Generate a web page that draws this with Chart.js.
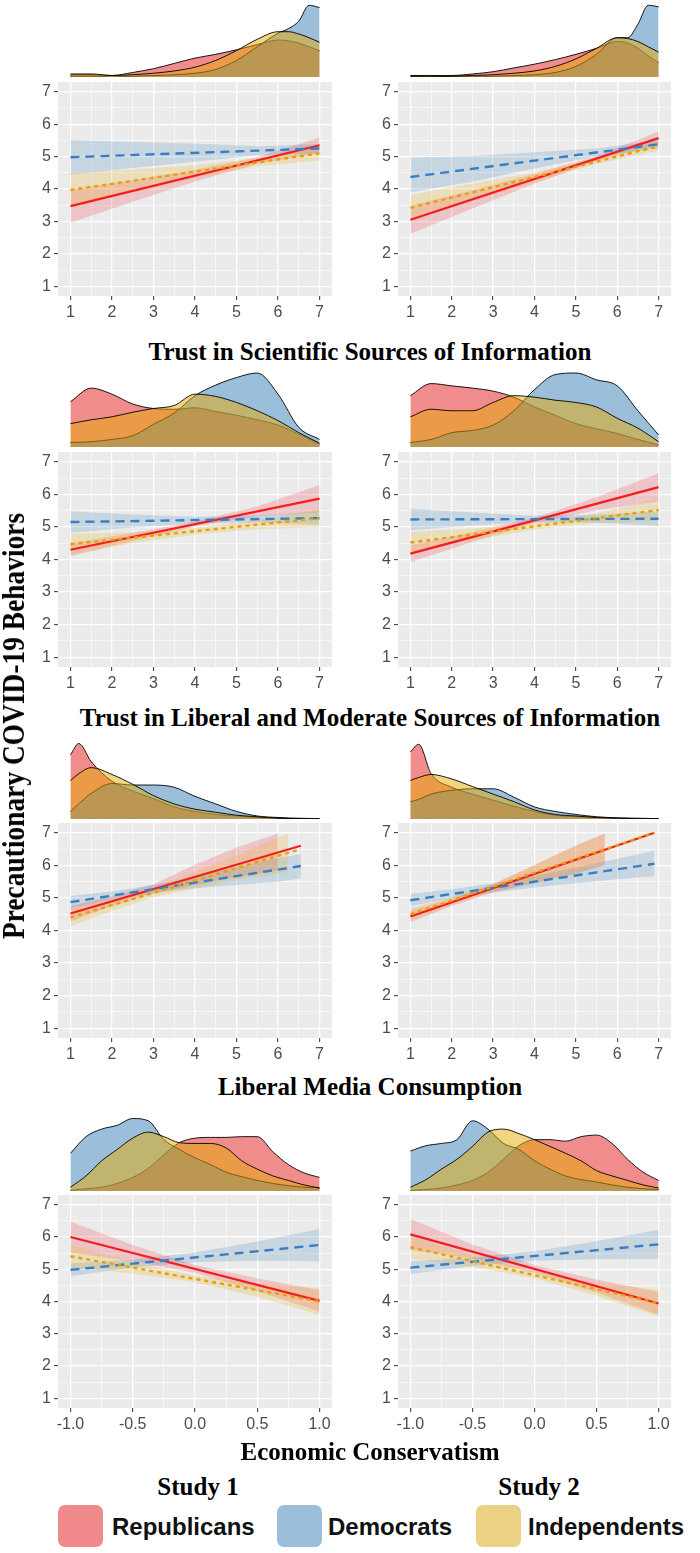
<!DOCTYPE html>
<html lang="en">
<head>
<meta charset="utf-8">
<title>Precautionary COVID-19 Behaviors</title>
<script src="https://cdn.jsdelivr.net/npm/chart.js@4.4.1/dist/chart.umd.min.js"></script>
<style>
  html, body { margin: 0; padding: 0; background: #fff; }
  body { position: relative; width: 700px; height: 1553px; overflow: hidden; }
  canvas { position: absolute; }
  .title { position: absolute; transform: translate(-50%, -50%); white-space: nowrap;
           font-family: "Liberation Serif", "Times New Roman", serif; font-weight: bold; font-size: 25px; color: #000; }
  .ytitle { position: absolute; transform: translate(-50%, -50%) rotate(-90deg) scale(0.885, 1); white-space: nowrap;
            font-family: "Liberation Serif", "Times New Roman", serif; font-weight: bold; font-size: 31px; color: #000; }
  .legend-box { position: absolute; width: 45px; height: 42px; border-radius: 7px; }
  .legend-text { position: absolute; transform: translateY(-50%); white-space: nowrap;
                 font-family: "Liberation Sans", Arial, sans-serif; font-weight: bold; font-size: 24px; color: #111; }
</style>
</head>
<body>
<script>
// ---- categorias e textos ----
const groups = ['Republicans', 'Democrats', 'Independents'];
const studies = ['Study 1', 'Study 2'];
const rowTitles = [
  'Trust in Scientific Sources of Information',
  'Trust in Liberal and Moderate Sources of Information',
  'Liberal Media Consumption',
  'Economic Conservatism'
];
const yTitle = 'Precautionary COVID-19 Behaviors';

// ---- ticks ----
const yTicks = [1, 2, 3, 4, 5, 6, 7];
const yMinor = [1.5, 2.5, 3.5, 4.5, 5.5, 6.5];
const yLabels = ['1', '2', '3', '4', '5', '6', '7'];
const xTicks17 = [1, 2, 3, 4, 5, 6, 7];
const xMinor17 = [1.5, 2.5, 3.5, 4.5, 5.5, 6.5];
const xLabels17 = ['1', '2', '3', '4', '5', '6', '7'];
const xTicksEcon = [-1, -0.5, 0, 0.5, 1];
const xMinorEcon = [-0.75, -0.25, 0.25, 0.75];
const xLabelsEcon = ['-1.0', '-0.5', '0.0', '0.5', '1.0'];

// ---- densidades (topo) : grades de x ----
const dx1 = [1, 1.5, 2, 2.5, 3, 3.5, 4, 4.5, 5, 5.5, 6, 6.25, 6.5, 6.75, 7];
const dx2 = [1, 1.5, 2, 2.5, 3, 3.5, 4, 4.5, 5, 5.5, 6, 6.5, 7];
const dx3 = [1, 1.2, 1.5, 2, 2.5, 3, 3.5, 4, 4.5, 5, 5.5, 6, 6.5, 7];
const dx4 = [-1, -0.875, -0.75, -0.625, -0.5, -0.375, -0.25, -0.125, 0, 0.125, 0.25, 0.375, 0.5, 0.625, 0.75, 0.875, 1];

// Trust in Scientific Sources
const dSci1Rep = [.03, .03, .02, .06, .11, .18, .25, .30, .36, .43, .49, .48, .45, .40, .35];
const dSci1Dem = [.01, .01, .00, .01, .02, .03, .05, .10, .22, .40, .58, .64, .74, .95, .92];
const dSci1Ind = [.04, .04, .02, .03, .05, .08, .13, .22, .35, .50, .60, .60, .57, .52, .46];
const dSci2Rep = [.02, .02, .02, .04, .07, .12, .17, .23, .30, .38, .47, .45, .38, .28, .19];
const dSci2Dem = [.00, .00, .01, .01, .01, .02, .03, .06, .14, .30, .52, .52, .70, .95, .93];
const dSci2Ind = [.01, .01, .01, .02, .03, .05, .08, .14, .24, .38, .52, .51, .47, .40, .33];
// Trust in Liberal and Moderate Sources
const dLib1Rep = [.60, .78, .70, .57, .51, .50, .52, .47, .42, .36, .29, .17, .04];
const dLib1Dem = [.06, .07, .10, .15, .30, .45, .68, .82, .92, .98, .70, .26, .10];
const dLib1Ind = [.31, .36, .40, .46, .51, .55, .70, .67, .59, .48, .35, .19, .05];
const dLib2Rep = [.68, .84, .81, .78, .74, .66, .53, .42, .31, .24, .18, .10, .03];
const dLib2Dem = [.06, .10, .19, .22, .29, .48, .76, .96, .98, .89, .81, .48, .16];
const dLib2Ind = [.40, .50, .48, .48, .59, .68, .66, .62, .59, .53, .38, .25, .07];
// Liberal Media Consumption
const dMed1Rep = [.85, 1.0, .76, .50, .37, .27, .16, .10, .06, .04, .02, .01, .005, 0];
const dMed1Dem = [.10, .20, .34, .47, .45, .45, .42, .30, .20, .10, .04, .02, .01, .005];
const dMed1Ind = [.51, .60, .68, .59, .46, .31, .20, .13, .09, .05, .03, .01, .005, 0];
const dMed2Rep = [.89, .99, .60, .42, .33, .25, .17, .10, .05, .03, .02, .01, .005, 0];
const dMed2Dem = [.23, .26, .33, .38, .40, .40, .29, .16, .10, .06, .03, .015, .01, .005];
const dMed2Ind = [.51, .55, .59, .53, .43, .33, .23, .12, .06, .04, .02, .01, .005, 0];
// Economic Conservatism
const dEco1Rep = [.01, .03, .05, .10, .18, .30, .48, .64, .70, .71, .71, .72, .72, .52, .35, .24, .18];
const dEco1Dem = [.50, .72, .82, .87, .96, .93, .68, .55, .44, .35, .25, .19, .14, .10, .07, .05, .04];
const dEco1Ind = [.05, .20, .40, .55, .70, .78, .72, .64, .63, .63, .57, .40, .29, .20, .14, .08, .04];
const dEco2Rep = [.01, .02, .04, .08, .14, .25, .42, .60, .68, .68, .66, .72, .74, .63, .42, .25, .14];
const dEco2Dem = [.53, .60, .63, .68, .93, .82, .63, .55, .40, .29, .20, .15, .12, .08, .05, .03, .02];
const dEco2Ind = [.05, .15, .29, .42, .59, .78, .82, .76, .68, .59, .50, .40, .27, .20, .14, .08, .04];

// ---- regressões: retas (x inicial/final) ----
const lineX17 = [1, 7];
const lineXEcon = [-1, 1];
const lineXMed1 = [1, 6.55];
const lineXMed2 = [1, 6.9];

const fSci1Rep = [3.47, 5.35], fSci1Dem = [4.98, 5.25], fSci1Ind = [3.97, 5.10];
const fSci2Rep = [3.05, 5.57], fSci2Dem = [4.37, 5.38], fSci2Ind = [3.42, 5.32];
const fLib1Rep = [4.30, 5.87], fLib1Dem = [5.15, 5.27], fLib1Ind = [4.47, 5.27];
const fLib2Rep = [4.18, 6.22], fLib2Dem = [5.23, 5.25], fLib2Ind = [4.52, 5.52];
const fMed1Rep = [4.52, 6.60], fMed1Dem = [4.87, 5.98], fMed1Ind = [4.40, 6.50];
const fMed2Rep = [4.43, 7.00], fMed2Dem = [4.93, 6.05], fMed2Ind = [4.50, 7.00];
const fEco1Rep = [6.00, 4.02], fEco1Dem = [4.98, 5.75], fEco1Ind = [5.40, 4.00];
const fEco2Rep = [6.08, 3.94], fEco2Dem = [5.05, 5.77], fEco2Ind = [5.68, 3.95];

// ---- regressões: faixas de confiança ----
const bx17 = [1, 2.5, 4, 5.5, 7];
const bxEcon = [-1, -0.5, 0, 0.5, 1];

const loSci1Rep = [2.96, 3.61, 4.23, 4.78, 5.11], hiSci1Rep = [3.98, 4.27, 4.59, 4.98, 5.59];
const loSci1Dem = [4.45, 4.65, 4.84, 5.04, 5.11], hiSci1Dem = [5.51, 5.45, 5.40, 5.32, 5.39];
const loSci1Ind = [3.45, 3.90, 4.34, 4.70, 4.88], hiSci1Ind = [4.49, 4.60, 4.74, 4.94, 5.32];
const loSci2Rep = [2.62, 3.40, 4.16, 4.86, 5.37], hiSci2Rep = [3.48, 3.96, 4.46, 5.02, 5.77];
const loSci2Dem = [3.90, 4.22, 4.63, 5.01, 5.26], hiSci2Dem = [4.97, 5.02, 5.13, 5.25, 5.50];
const loSci2Ind = [3.02, 3.63, 4.22, 4.77, 5.18], hiSci2Ind = [3.82, 4.17, 4.52, 4.93, 5.46];

const loLib1Rep = [4.10, 4.57, 5.01, 5.33, 5.45], hiLib1Rep = [4.50, 4.81, 5.17, 5.63, 6.29];
const loLib1Dem = [4.82, 4.98, 5.11, 5.14, 5.07], hiLib1Dem = [5.48, 5.38, 5.31, 5.34, 5.47];
const loLib1Ind = [4.15, 4.51, 4.77, 4.93, 4.99], hiLib1Ind = [4.79, 4.83, 4.97, 5.21, 5.55];
const loLib2Rep = [3.92, 4.54, 5.12, 5.51, 5.79], hiLib2Rep = [4.44, 4.84, 5.28, 5.91, 6.65];
const loLib2Dem = [4.90, 5.04, 5.14, 5.13, 5.03], hiLib2Dem = [5.56, 5.44, 5.34, 5.37, 5.47];
const loLib2Ind = [4.19, 4.59, 4.92, 5.12, 5.19], hiLib2Ind = [4.85, 4.95, 5.12, 5.42, 5.85];

// Media: faixas cortadas onde passam de 7
const bxMed1Rep = [1, 2, 3, 4, 5, 6];
const loMed1Rep = [4.28, 4.75, 5.13, 5.40, 5.65, 5.85], hiMed1Rep = [4.75, 5.05, 5.42, 6.02, 6.55, 6.98];
const bxMed1Dem = [1, 2, 3, 4, 5, 6, 6.55];
const loMed1Dem = [4.68, 4.95, 5.15, 5.30, 5.40, 5.50, 5.60], hiMed1Dem = [5.06, 5.20, 5.40, 5.65, 5.95, 6.22, 6.35];
const bxMed1Ind = [1, 2, 3, 4, 5, 6, 6.25];
const loMed1Ind = [4.13, 4.60, 5.02, 5.30, 5.55, 5.75, 5.80], hiMed1Ind = [4.68, 4.96, 5.32, 5.80, 6.30, 6.85, 6.98];
const bxMed2Rep = [1, 2, 3, 4, 5, 5.7];
const loMed2Rep = [4.25, 4.75, 5.17, 5.45, 5.75, 6.00], hiMed2Rep = [4.62, 4.98, 5.43, 6.00, 6.60, 6.98];
const bxMed2Dem = [1, 2, 3, 4, 5, 6, 6.9];
const loMed2Dem = [4.75, 4.98, 5.17, 5.32, 5.45, 5.57, 5.67], hiMed2Dem = [5.13, 5.27, 5.45, 5.68, 5.93, 6.20, 6.45];
const bxMed2Ind = [1, 2, 3, 4, 5, 5.7];
const loMed2Ind = [4.30, 4.80, 5.20, 5.45, 5.75, 6.00], hiMed2Ind = [4.70, 5.02, 5.42, 6.02, 6.62, 6.98];

const loEco1Rep = [5.52, 5.25, 4.89, 4.32, 3.69], hiEco1Rep = [6.48, 5.75, 5.13, 4.72, 4.35];
const loEco1Dem = [4.78, 5.05, 5.22, 5.26, 5.25], hiEco1Dem = [5.18, 5.29, 5.52, 5.86, 6.25];
const loEco1Ind = [5.05, 4.87, 4.60, 4.15, 3.58], hiEco1Ind = [5.75, 5.23, 4.80, 4.55, 4.42];
const loEco2Rep = [5.60, 5.33, 4.89, 4.28, 3.59], hiEco2Rep = [6.56, 5.77, 5.13, 4.68, 4.29];
const loEco2Dem = [4.85, 5.10, 5.26, 5.31, 5.32], hiEco2Dem = [5.25, 5.36, 5.56, 5.87, 6.22];
const loEco2Ind = [5.33, 5.07, 4.72, 4.18, 3.53], hiEco2Ind = [6.03, 5.43, 4.92, 4.58, 4.37];

// ---- cores ----
const densFill = ['rgba(228, 26, 28, 0.5)', 'rgba(55, 126, 184, 0.5)', 'rgba(230, 171, 2, 0.5)'];
const legendFill = ['#F08A8C', '#9BBEDB', '#ECD084'];
const ribbonFill = ['rgba(240, 40, 60, 0.2)', 'rgba(55, 126, 184, 0.2)', 'rgba(230, 175, 20, 0.22)'];
const lineColor = ['#F01E1E', '#3A7EC0', '#E6A000'];
const lineDash = [[], [9, 6], [4, 4]];

// ---- posições (px) ----
const colLeft = [58, 398], colWidth = [274, 273];
const panelTop = [82, 452, 823, 1195], panelHeight = [214, 215, 215, 213];
const densBase = [77, 447, 819, 1191];
const DENS_H = 77, AXIS_W = 40, AXIS_H = 32;
const titleY = [352, 718, 1087, 1452];

const rowX = [
  { min: 0.7, max: 7.3, majors: xTicks17, minors: xMinor17, labels: xLabels17 },
  { min: 0.7, max: 7.3, majors: xTicks17, minors: xMinor17, labels: xLabels17 },
  { min: 0.7, max: 7.3, majors: xTicks17, minors: xMinor17, labels: xLabels17 },
  { min: -1.1, max: 1.1, majors: xTicksEcon, minors: xMinorEcon, labels: xLabelsEcon }
];

const panels = [
  { row: 0, col: 0, lineX: lineX17, bandX: [bx17, bx17, bx17], fit: [fSci1Rep, fSci1Dem, fSci1Ind],
    lo: [loSci1Rep, loSci1Dem, loSci1Ind], hi: [hiSci1Rep, hiSci1Dem, hiSci1Ind], densX: dx1, dens: [dSci1Rep, dSci1Dem, dSci1Ind] },
  { row: 0, col: 1, lineX: lineX17, bandX: [bx17, bx17, bx17], fit: [fSci2Rep, fSci2Dem, fSci2Ind],
    lo: [loSci2Rep, loSci2Dem, loSci2Ind], hi: [hiSci2Rep, hiSci2Dem, hiSci2Ind], densX: dx1, dens: [dSci2Rep, dSci2Dem, dSci2Ind] },
  { row: 1, col: 0, lineX: lineX17, bandX: [bx17, bx17, bx17], fit: [fLib1Rep, fLib1Dem, fLib1Ind],
    lo: [loLib1Rep, loLib1Dem, loLib1Ind], hi: [hiLib1Rep, hiLib1Dem, hiLib1Ind], densX: dx2, dens: [dLib1Rep, dLib1Dem, dLib1Ind] },
  { row: 1, col: 1, lineX: lineX17, bandX: [bx17, bx17, bx17], fit: [fLib2Rep, fLib2Dem, fLib2Ind],
    lo: [loLib2Rep, loLib2Dem, loLib2Ind], hi: [hiLib2Rep, hiLib2Dem, hiLib2Ind], densX: dx2, dens: [dLib2Rep, dLib2Dem, dLib2Ind] },
  { row: 2, col: 0, lineX: lineXMed1, bandX: [bxMed1Rep, bxMed1Dem, bxMed1Ind], fit: [fMed1Rep, fMed1Dem, fMed1Ind],
    lo: [loMed1Rep, loMed1Dem, loMed1Ind], hi: [hiMed1Rep, hiMed1Dem, hiMed1Ind], densX: dx3, dens: [dMed1Rep, dMed1Dem, dMed1Ind] },
  { row: 2, col: 1, lineX: lineXMed2, bandX: [bxMed2Rep, bxMed2Dem, bxMed2Ind], fit: [fMed2Rep, fMed2Dem, fMed2Ind],
    lo: [loMed2Rep, loMed2Dem, loMed2Ind], hi: [hiMed2Rep, hiMed2Dem, hiMed2Ind], densX: dx3, dens: [dMed2Rep, dMed2Dem, dMed2Ind] },
  { row: 3, col: 0, lineX: lineXEcon, bandX: [bxEcon, bxEcon, bxEcon], fit: [fEco1Rep, fEco1Dem, fEco1Ind],
    lo: [loEco1Rep, loEco1Dem, loEco1Ind], hi: [hiEco1Rep, hiEco1Dem, hiEco1Ind], densX: dx4, dens: [dEco1Rep, dEco1Dem, dEco1Ind] },
  { row: 3, col: 1, lineX: lineXEcon, bandX: [bxEcon, bxEcon, bxEcon], fit: [fEco2Rep, fEco2Dem, fEco2Ind],
    lo: [loEco2Rep, loEco2Dem, loEco2Ind], hi: [hiEco2Rep, hiEco2Dem, hiEco2Ind], densX: dx4, dens: [dEco2Rep, dEco2Dem, dEco2Ind] }
];

// fundo cinza do painel (estilo ggplot)
const panelBg = {
  id: 'panelBg',
  beforeDraw(chart, args, opts) {
    if (!opts.color) return;
    const a = chart.chartArea, ctx = chart.ctx;
    ctx.save();
    ctx.fillStyle = opts.color;
    ctx.fillRect(a.left, a.top, a.right - a.left, a.bottom - a.top);
    ctx.restore();
  }
};

function makeCanvas(left, top, w, h) {
  const c = document.createElement('canvas');
  c.width = w; c.height = h;
  c.style.left = left + 'px'; c.style.top = top + 'px';
  c.style.width = w + 'px'; c.style.height = h + 'px';
  document.body.appendChild(c);
  return c.getContext('2d');
}

function addText(cls, text, x, y) {
  const d = document.createElement('div');
  d.className = cls;
  d.textContent = text;
  d.style.left = x + 'px'; d.style.top = y + 'px';
  document.body.appendChild(d);
  return d;
}

function axisScale(min, max, majors, minors, labels, isX) {
  const all = majors.concat(minors).sort((a, b) => a - b);
  const isMajor = c => c.tick && majors.includes(c.tick.value);
  return {
    type: 'linear', min, max,
    afterBuildTicks: s => { s.ticks = all.map(v => ({ value: v })); },
    afterFit: s => {
      if (isX) { s.height = AXIS_H; s.paddingLeft = 0; s.paddingRight = 0; }
      else { s.width = AXIS_W; s.paddingTop = 0; s.paddingBottom = 0; }
    },
    border: { display: false },
    grid: {
      color: '#FFFFFF',
      lineWidth: c => isMajor(c) ? 1.3 : 0.6,
      drawTicks: true, tickLength: 4, tickWidth: 1,
      tickColor: c => isMajor(c) ? '#333333' : 'rgba(0,0,0,0)'
    },
    ticks: {
      autoSkip: false, maxRotation: 0, padding: 3, color: '#4D4D4D',
      font: { family: '"Liberation Sans", Arial, sans-serif', size: 16 },
      callback: v => { const i = majors.indexOf(v); return i < 0 ? '' : labels[i]; }
    }
  };
}

const baseOptions = () => ({
  responsive: false, animation: false, devicePixelRatio: 1,
  layout: { padding: 0 },
  events: []
});

function regressionChart(p) {
  const ax = rowX[p.row];
  const ctx = makeCanvas(colLeft[p.col] - AXIS_W, panelTop[p.row], colWidth[p.col] + AXIS_W, panelHeight[p.row] + AXIS_H);
  const datasets = [];
  // faixas primeiro (order alto = desenhado antes)
  for (let g = 0; g < 3; g++) {
    datasets.push({ label: groups[g] + ' hi', data: p.bandX[g].map((x, i) => ({ x, y: p.hi[g][i] })),
      fill: '+1', backgroundColor: ribbonFill[g], borderColor: 'rgba(0,0,0,0)', borderWidth: 0, pointRadius: 0, order: 20 - g * 2 });
    datasets.push({ label: groups[g] + ' lo', data: p.bandX[g].map((x, i) => ({ x, y: p.lo[g][i] })),
      fill: false, borderColor: 'rgba(0,0,0,0)', borderWidth: 0, pointRadius: 0, order: 19 - g * 2 });
  }
  // retas ajustadas
  for (let g = 0; g < 3; g++) {
    datasets.push({ label: groups[g], data: p.lineX.map((x, i) => ({ x, y: p.fit[g][i] })),
      fill: false, borderColor: lineColor[g], borderWidth: g === 0 ? 2.2 : 2.4, borderDash: lineDash[g],
      borderCapStyle: 'butt', pointRadius: 0, order: 3 - g });
  }
  const opts = baseOptions();
  opts.plugins = { legend: { display: false }, tooltip: { enabled: false }, panelBg: { color: '#EBEBEB' } };
  opts.scales = {
    x: axisScale(ax.min, ax.max, ax.majors, ax.minors, ax.labels, true),
    y: axisScale(0.7, 7.3, yTicks, yMinor, yLabels, false)
  };
  new Chart(ctx, { type: 'line', data: { datasets }, options: opts, plugins: [panelBg] });
}

function densityChart(p) {
  const ax = rowX[p.row];
  const ctx = makeCanvas(colLeft[p.col], densBase[p.row] - DENS_H, colWidth[p.col], DENS_H);
  const datasets = [0, 1, 2].map(g => ({
    label: groups[g],
    data: p.densX.map((x, i) => ({ x, y: p.dens[g][i] })),
    fill: 'origin', backgroundColor: densFill[g], borderColor: '#000000', borderWidth: 0.9,
    pointRadius: 0, cubicInterpolationMode: 'monotone', order: 3 - g
  }));
  const opts = baseOptions();
  opts.plugins = { legend: { display: false }, tooltip: { enabled: false } };
  opts.scales = {
    x: { type: 'linear', display: false, min: ax.min, max: ax.max },
    y: { type: 'linear', display: false, min: 0, max: 1.02 }
  };
  new Chart(ctx, { type: 'line', data: { datasets }, options: opts });
}

document.addEventListener('DOMContentLoaded', () => {
  panels.forEach(p => { densityChart(p); regressionChart(p); });

  // títulos de cada linha
  rowTitles.forEach((t, r) => addText('title', t, 370, titleY[r]));
  addText('title', studies[0], 198, 1487);
  addText('title', studies[1], 539, 1487);
  addText('ytitle', yTitle, 14, 726);

  // legenda
  const boxX = [58, 277, 476], textX = [112, 328, 528];
  groups.forEach((g, i) => {
    const b = document.createElement('div');
    b.className = 'legend-box';
    b.style.left = boxX[i] + 'px'; b.style.top = '1505px';
    b.style.background = legendFill[i];
    document.body.appendChild(b);
    addText('legend-text', g, textX[i], 1527);
  });
});
</script>
</body>
</html>
